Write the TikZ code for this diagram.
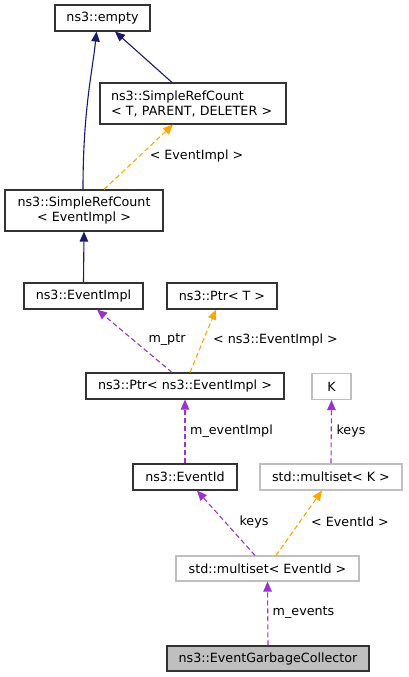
\documentclass[tikz,border=0pt]{standalone}
\usepackage{fontspec}
\setmainfont{DejaVu Sans}
\usetikzlibrary{arrows.meta}
\definecolor{navyc}{HTML}{191970}
\definecolor{orangec}{HTML}{FFA500}
\definecolor{purplec}{HTML}{9A32CD}
\definecolor{grayb}{HTML}{BFBFBF}
\begin{document}
\begin{tikzpicture}[x=1pt,y=-1pt,
  every node/.style={font=\fontsize{12.7}{15}\selectfont},
  cls/.style={draw=black!80,line width=1.1pt,fill=white,inner sep=0pt,minimum height=26pt},
  ucls/.style={cls,draw=grayb},
  inh/.style={draw=navyc,line width=1.1pt,-{Triangle[length=10pt,width=8.5pt]}},
  tmpl/.style={draw=orangec,line width=1.1pt,dash pattern=on 5pt off 3pt,-{Triangle[length=10pt,width=8.5pt]}},
  usg/.style={draw=purplec,line width=1.1pt,dash pattern=on 5pt off 3pt,-{Triangle[length=10pt,width=8.5pt]}},
  lbl/.style={inner sep=0pt}
]
\useasboundingbox (0,0) rectangle (408,677);
\node[cls,minimum width=95pt] (empty) at (102.5,18) {ns3::empty};
\node[cls,text width=164pt,inner xsep=11pt,minimum height=41pt,align=left] (srcT) at (193,103.5) {ns3::SimpleRefCount\\\textless{} T, PARENT, DELETER \textgreater};
\node[cls,text width=158pt,minimum height=41pt,align=center] (srcE) at (84,210.5) {ns3::SimpleRefCount\\\textless{} EventImpl \textgreater};
\node[cls,minimum width=119pt] (evimpl) at (83.5,296) {ns3::EventImpl};
\node[cls,minimum width=110pt] (ptrT) at (222,296) {ns3::Ptr\textless{} T \textgreater};
\node[cls,minimum width=198pt] (ptrE) at (185,386) {ns3::Ptr\textless{} ns3::EventImpl \textgreater};
\node[ucls,minimum width=39pt] (K) at (331.5,386.5) {K};
\node[cls,minimum width=104pt] (evid) at (185,477) {ns3::EventId};
\node[ucls,minimum width=142pt] (msK) at (331,477) {std::multiset\textless{} K \textgreater};
\node[ucls,minimum width=183pt,minimum height=25pt] (msE) at (267.5,568.5) {std::multiset\textless{} EventId \textgreater};
\node[cls,fill=grayb,minimum width=202pt,minimum height=25pt] (egc) at (268,658.5) {ns3::EventGarbageCollector};

\draw[inh] ([xshift=-1pt]srcE.north) .. controls ([xshift=-1pt,yshift=80pt]srcE.north) and ([xshift=-10pt,yshift=-40pt]empty.south) .. ([xshift=-6pt]empty.south);
\draw[inh] ([xshift=-21pt]srcT.north) -- ([xshift=12.5pt]empty.south);
\draw[tmpl] ([xshift=20pt]srcE.north) -- ([xshift=-20pt]srcT.south);
\node[lbl] (l1) at (196.5,156) {\textless{} EventImpl \textgreater};
\draw[inh] (evimpl.north) -- (srcE.south);
\draw[usg] ([xshift=-13pt]ptrE.north) -- ([xshift=13.5pt]evimpl.south);
\node[lbl] (l2) at (167,340) {m\_ptr};
\draw[tmpl] ([xshift=5pt]ptrE.north) -- ([xshift=-6pt]ptrT.south);
\node[lbl] (l3) at (275.5,340) {\textless{} ns3::EventImpl \textgreater};
\draw[usg] (evid.north) -- (ptrE.south);
\node[lbl] (l4) at (231.5,431) {m\_eventImpl};
\draw[usg] (msK.north) -- (K.south);
\node[lbl] (l5) at (351,431) {keys};
\draw[usg] ([xshift=-12.5pt]msE.north) -- ([xshift=12pt]evid.south);
\node[lbl] (l6) at (254,521.5) {keys};
\draw[tmpl] ([xshift=8.5pt]msE.north) -- ([xshift=-9pt]msK.south);
\node[lbl] (l7) at (350,521.5) {\textless{} EventId \textgreater};
\draw[usg] (egc.north) -- (msE.south);
\node[lbl] (l8) at (303.5,612.5) {m\_events};
\end{tikzpicture}
\end{document}
